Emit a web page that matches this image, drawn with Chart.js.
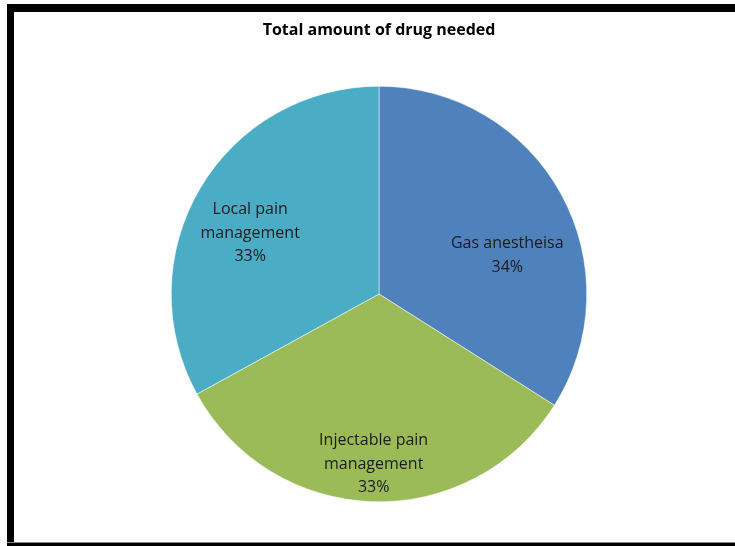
<!DOCTYPE html>
<html>
<head>
<meta charset="utf-8">
<script src="https://cdn.jsdelivr.net/npm/chart.js@4"></script>
<style>
  html, body { margin: 0; padding: 0; background: #fff; }
  #wrap { position: relative; width: 735px; height: 546px; overflow: hidden; background: #fff; }
  #c { position: absolute; left: 0; top: 0; }
  .bar { position: absolute; background: #000; }
</style>
</head>
<body>
<div id="wrap">
  <div class="bar" style="left:7px; top:4px; width:728px; height:8px;"></div>
  <div class="bar" style="left:7px; top:4px; width:7px; height:542px;"></div>
  <div class="bar" style="left:7px; top:542px; width:728px; height:1px; background:#888;"></div>
  <div class="bar" style="left:7px; top:543px; width:728px; height:3px;"></div>
  <canvas id="c" width="735" height="546"></canvas>
</div>
<script>
const categories = ["Gas anestheisa", "Injectable pain management", "Local pain management"];
const percents = [34, 33, 33];
const labelLines = [["Gas anestheisa"], ["Injectable pain", "management"], ["Local pain", "management"]];
const colors = ["#4F81BD", "#9BBB59", "#4BACC6"];

// label placement: fraction of radius and angular shift (degrees) from slice mid-angle
const labelRadial = [0.645, 0.82, 0.686];
const labelShift = [12, 0, -5.3];

const sliceLabels = {
  id: 'sliceLabels',
  afterDatasetsDraw(chart) {
    const ctx = chart.ctx;
    const meta = chart.getDatasetMeta(0);
    const ds = chart.data.datasets[0].data;
    const total = ds.reduce((a, b) => a + b, 0);
    ctx.save();
    ctx.font = '16px "Open Sans", "Liberation Sans", sans-serif';
    ctx.fillStyle = '#1b1b1b';
    ctx.textAlign = 'center';
    ctx.textBaseline = 'middle';
    meta.data.forEach((arc, i) => {
      const p = arc.getProps(['x', 'y', 'startAngle', 'endAngle', 'outerRadius'], true);
      const mid = (p.startAngle + p.endAngle) / 2 + labelShift[i] * Math.PI / 180;
      const r = p.outerRadius * labelRadial[i];
      const cx = p.x + Math.cos(mid) * r;
      const cy = p.y + Math.sin(mid) * r;
      const lines = labelLines[i].concat([Math.round(ds[i] / total * 100) + '%']);
      const lh = 23.5;
      lines.forEach((t, k) => {
        ctx.fillText(t, cx, cy + (k - (lines.length - 1) / 2) * lh);
      });
    });
    ctx.restore();
  }
};

new Chart(document.getElementById('c'), {
  type: 'pie',
  data: {
    labels: categories,
    datasets: [{
      data: percents,
      backgroundColor: colors,
      borderColor: '#ffffff',
      borderWidth: 0.5
    }]
  },
  options: {
    responsive: false,
    animation: false,
    layout: { padding: { left: 171, right: 148, top: 21, bottom: 44 } },
    plugins: {
      legend: { display: false },
      tooltip: { enabled: false },
      title: {
        display: true,
        text: 'Total amount of drug needed',
        color: '#000',
        font: { family: '"Open Sans", "Liberation Sans", sans-serif', size: 16, weight: 'bold', lineHeight: 1.2 },
        padding: { top: 0, bottom: 45.8 }
      }
    }
  },
  plugins: [sliceLabels]
});
</script>
</body>
</html>
